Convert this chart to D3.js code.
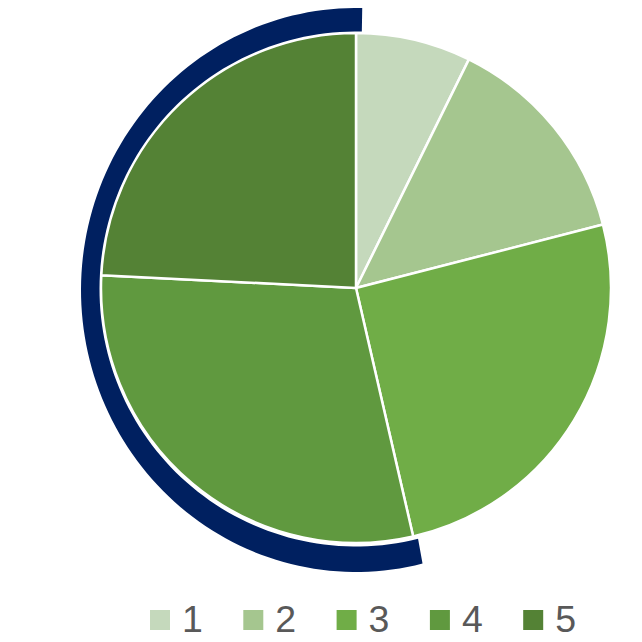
<!DOCTYPE html>
<html><head><meta charset="utf-8">
<script src="https://cdn.jsdelivr.net/npm/d3@7"></script>
<style>body{margin:0;background:#fff;}svg{display:block;}</style>
</head><body>
<script>
const categories = ["1","2","3","4","5"];
const values = [7.3, 13.7, 25.4, 29.4, 24.2];
const colors = ["#C5D9BC","#A5C68F","#70AD47","#60993F","#548235"];
const highlightRange = [166, 361.3]; // degrees, navy arc

const W = 642, H = 642, cx = 356, cy = 288, R = 255;
const svg = d3.select("body").append("svg").attr("width", W).attr("height", H);
const g = svg.append("g").attr("transform", `translate(${cx},${cy})`);

const pie = d3.pie().sort(null).value(d => d)(values);
const arc = d3.arc().innerRadius(0).outerRadius(R);
g.selectAll("path.slice").data(pie).join("path")
  .attr("class","slice")
  .attr("d", arc)
  .attr("fill", (d,i) => colors[i])
  .attr("stroke", "#fff").attr("stroke-width", 2.5).attr("stroke-linejoin","round");

// navy highlight band (slightly elliptical, as in the original drawing)
const rad = Math.PI/180;
const a0 = highlightRange[0]*rad, a1 = highlightRange[1]*rad;
const angles = d3.range(0, 121).map(k => a0 + (a1 - a0) * k / 120);
const outer = { rx: 275, ry: 282, dy: 2 };
const inner = { rx: 256.5, ry: 257.5, dy: 1 };
const pts = angles.map(a => [outer.rx*Math.sin(a), outer.dy - outer.ry*Math.cos(a)])
  .concat(angles.slice().reverse().map(a => [inner.rx*Math.sin(a), inner.dy - inner.ry*Math.cos(a)]));
g.append("path")
  .attr("d", d3.line()(pts) + "Z")
  .attr("fill", "#002060");

const leg = svg.append("g");
const x0 = 150, step = 93.3;
categories.forEach((c,i) => {
  const gx = x0 + i*step;
  leg.append("rect").attr("x", gx).attr("y", 610).attr("width", 20).attr("height", 20).attr("fill", colors[i]);
  leg.append("text").attr("x", gx + 32).attr("y", 632).text(c)
    .attr("font-family", "Liberation Sans, Arial, sans-serif").attr("font-size", 37.5).attr("fill", "#595959");
});
</script>
</body></html>
